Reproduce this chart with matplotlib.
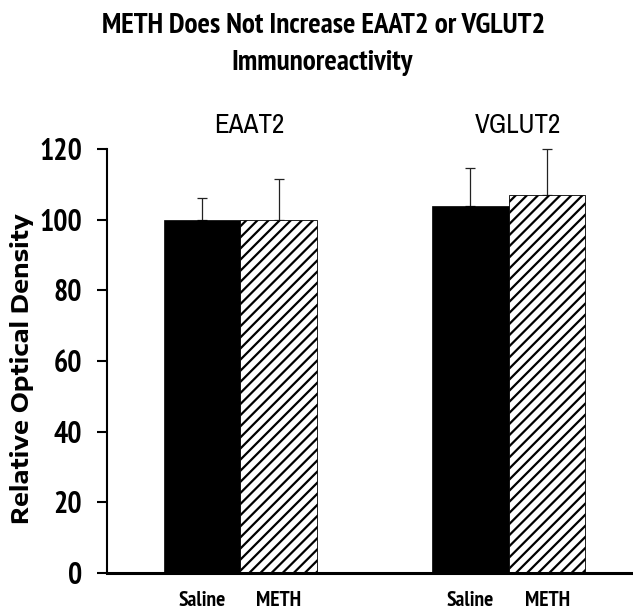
import matplotlib
matplotlib.use("Agg")
import matplotlib.pyplot as plt
import numpy as np
from matplotlib import font_manager

groups = ["EAAT2", "VGLUT2"]
treatments = ["Saline", "METH"]
means = {"Saline": [100, 104], "METH": [100, 107]}
errs = {"Saline": [6, 10.5], "METH": [11.6, 13]}
yticks = [0, 20, 40, 60, 80, 100, 120]


def pick(cands, bold=False):
    # first family that is installed (with a bold face when asked for)
    for c in cands:
        for f in font_manager.fontManager.ttflist:
            if f.name == c and (not bold or int(f.weight) >= 600):
                return c
    return "DejaVu Sans"


narrow = pick(["Liberation Sans Narrow", "Archivo Narrow", "PT Sans Narrow",
               "Roboto Condensed", "Sofia Sans Condensed"])
narrow_bold = pick(["Liberation Sans Narrow", "Archivo Narrow", "PT Sans Narrow",
                    "Roboto Condensed", "IBM Plex Sans Condensed", "Fira Sans Condensed",
                    "Encode Sans Condensed", "Asap Condensed", "Barlow Semi Condensed",
                    "Saira SemiCondensed"], bold=True)
wide_bold = pick(["Encode Sans Expanded", "Encode Sans SemiExpanded",
                  "Liberation Sans"], bold=True)

plt.rcParams["hatch.linewidth"] = 1.6

fig = plt.figure(figsize=(6.33, 6.11), dpi=100)
ax = fig.add_axes([0.169, 0.0622, 0.831, 0.6939])

group_pos = np.array([0.0, 3.5])
styles = {"Saline": dict(color="black", edgecolor="black", linewidth=0.5),
          "METH": dict(color="white", edgecolor="black", hatch="///", linewidth=0.6)}

for i, t in enumerate(treatments):
    x = group_pos + i
    ax.bar(x, means[t], width=1.0, zorder=2, **styles[t])
    ax.errorbar(x, means[t], yerr=[np.zeros(2), errs[t]], fmt="none",
                ecolor="#222222", elinewidth=0.9, capsize=3.5, capthick=0.9,
                zorder=1, clip_on=False)

for g, gx in zip(groups, group_pos):
    ax.text(gx + 0.62, 124.5, g, ha="center", va="baseline", fontsize=19.5,
            family=narrow)

ax.set_xlim(-1.24, 5.62)
ax.set_ylim(0, 120)
ax.set_yticks(yticks)
ax.set_yticklabels([str(v) for v in yticks], fontsize=21.5,
                   fontweight="bold", family=narrow_bold)
ax.tick_params(axis="y", length=7, width=1.5, pad=11)

ax.set_xticks(np.concatenate([group_pos, group_pos + 1]))
ax.set_xticklabels(["Saline", "Saline", "METH", "METH"], fontsize=15.5,
                   fontweight="bold", family=narrow_bold)
ax.tick_params(axis="x", length=0, pad=13)

for s in ["top", "right"]:
    ax.spines[s].set_visible(False)
ax.spines["left"].set_linewidth(1.5)
ax.spines["bottom"].set_linewidth(2.2)

ax.set_ylabel("Relative Optical Density", fontsize=17, fontweight="bold",
              family=wide_bold, va="center")
ax.yaxis.set_label_coords(-0.1616, 0.483)

title_kw = dict(ha="center", va="baseline", fontsize=21, fontweight="bold",
                family=narrow_bold)
fig.text(0.512, 0.946, "METH Does Not Increase EAAT2 or VGLUT2", **title_kw)
fig.text(0.509, 0.8854, "Immunoreactivity", **title_kw)

fig.savefig("out.png", dpi=100)
